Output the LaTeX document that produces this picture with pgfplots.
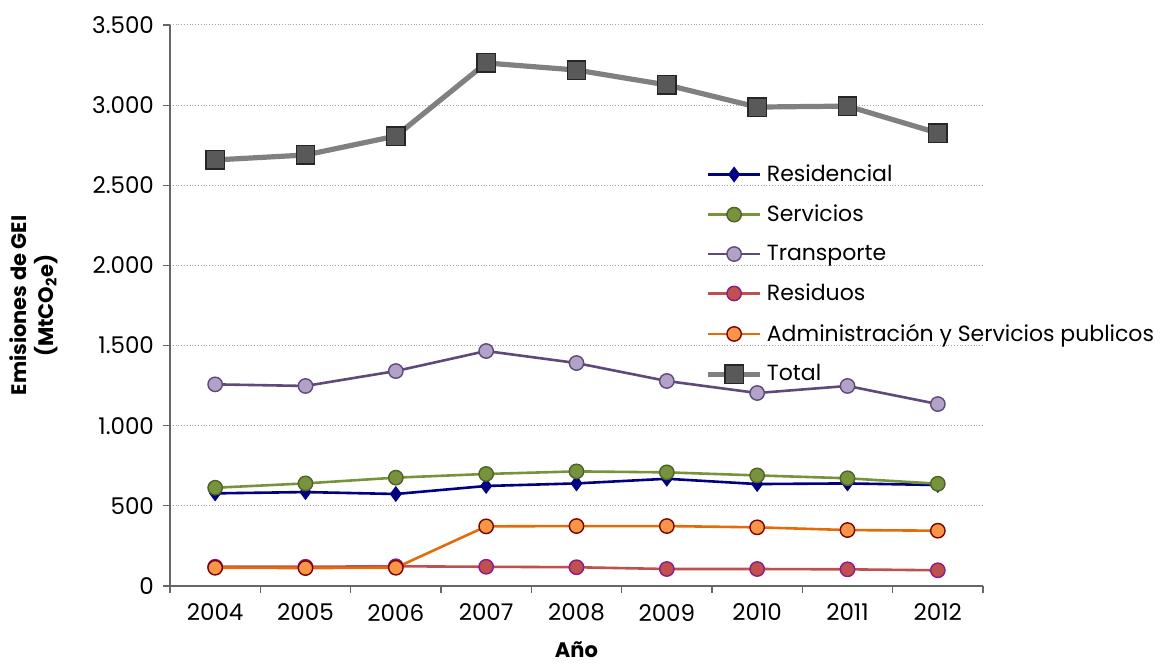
\documentclass[border=0pt]{standalone}
\usepackage{pgfplots}
\pgfplotsset{compat=1.18}
\usepackage{fontspec}
\setmainfont{Poppins}
\definecolor{cRes}{HTML}{000080}
\definecolor{cSer}{HTML}{77933C}
\definecolor{cSerD}{HTML}{4F6228}
\definecolor{cTra}{HTML}{5F497A}
\definecolor{cTraF}{HTML}{B3A2C7}
\definecolor{cResi}{HTML}{C0504D}
\definecolor{cResiD}{HTML}{8B1A8B}
\definecolor{cAdm}{HTML}{E36C09}
\definecolor{cAdmF}{HTML}{F79646}
\definecolor{cAdmD}{HTML}{800000}
\definecolor{cTot}{HTML}{808080}
\definecolor{cTotF}{HTML}{595959}
\begin{document}
\begin{tikzpicture}
\begin{axis}[
  scale only axis, width=406.5pt, height=280.5pt,
  at={(0,0)}, anchor=south west,
  xmin=-0.5, xmax=8.5, ymin=0, ymax=3500,
  axis lines*=left,
  axis line style={draw=gray!80!black, line width=0.6pt},
  xtick={-0.5,0.5,...,8.5},
  xticklabels={2004,2005,2006,2007,2008,2009,2010,2011,2012},
  x tick label as interval,
  ytick={0,500,...,3500},
  tick align=outside, major tick length=3.5pt,
  tick style={draw=gray!80!black, line width=0.6pt},
  ymajorgrids, grid style={densely dotted, gray!70, line width=0.5pt},
  tick label style={font=\fontsize{11.5}{13}\selectfont},
  /pgf/number format/.cd, 1000 sep={.}, assume math mode=true,
  /pgfplots/.cd,
  yticklabel style={xshift=-1pt},
  xticklabel style={yshift=-2pt},
  xlabel={\bfseries Año},
  xlabel style={font=\fontsize{10.5}{12}\selectfont, at={(axis description cs:0.5,-0.114)}, anchor=center},
  ylabel={\bfseries Emisiones de GEI\\\bfseries (MtCO$_\mathbf{2}$e)},
  ylabel style={font=\fontsize{10.5}{13.5}\selectfont, align=center, at={(axis description cs:-0.168,0.5)}, anchor=center},
  legend style={draw=none, fill=none, at={(0.658,0.759)}, anchor=north west,
    font=\fontsize{11}{13}\selectfont, row sep=6.2pt, inner sep=0pt},
  legend cell align=left,
  legend image code/.code={\draw[mark repeat=2,mark phase=2] plot coordinates {(0cm,0cm)(0.46cm,0cm)(0.92cm,0cm)};},
  clip=false,
]
\addplot[cRes, line width=1.3pt, mark=diamond*, mark size=3.6pt, mark options={fill=cRes, draw=cRes, line width=0.5pt}]
 coordinates {(0,578)(1,586)(2,574)(3,624)(4,640)(5,669)(6,636)(7,640)(8,630)};
\addlegendentry{Residencial}
\addplot[cSer, line width=1.3pt, mark=*, mark size=3.6pt, mark options={fill=cSer, draw=cSerD, line width=0.7pt}]
 coordinates {(0,613)(1,640)(2,676)(3,699)(4,715)(5,709)(6,690)(7,672)(8,638)};
\addlegendentry{Servicios}
\addplot[cTra, line width=1.3pt, mark=*, mark size=3.6pt, mark options={fill=cTraF, draw=cTra, line width=0.7pt}]
 coordinates {(0,1258)(1,1248)(2,1341)(3,1466)(4,1391)(5,1279)(6,1204)(7,1248)(8,1135)};
\addlegendentry{Transporte}
\addplot[cResi, line width=1.3pt, mark=*, mark size=3.6pt, mark options={fill=cResi, draw=cResiD, line width=0.7pt}]
 coordinates {(0,120)(1,120)(2,123)(3,120)(4,117)(5,106)(6,106)(7,104)(8,98)};
\addlegendentry{Residuos}
\addplot[cAdm, line width=1.3pt, mark=*, mark size=3.6pt, mark options={fill=cAdmF, draw=cAdmD, line width=0.7pt}]
 coordinates {(0,114)(1,112)(2,114)(3,372)(4,374)(5,374)(6,366)(7,349)(8,345)};
\addlegendentry{Administración y Servicios publicos}
\addplot[cTot, line width=2.6pt, mark=square*, mark size=4.6pt, mark options={fill=cTotF, draw=black!85, line width=0.7pt}]
 coordinates {(0,2658)(1,2689)(2,2807)(3,3263)(4,3219)(5,3126)(6,2988)(7,2994)(8,2826)};
\addlegendentry{Total}
\end{axis}
\pgfresetboundingbox
\path (-85pt,-39pt) rectangle (499pt,293pt);
\end{tikzpicture}
\end{document}
